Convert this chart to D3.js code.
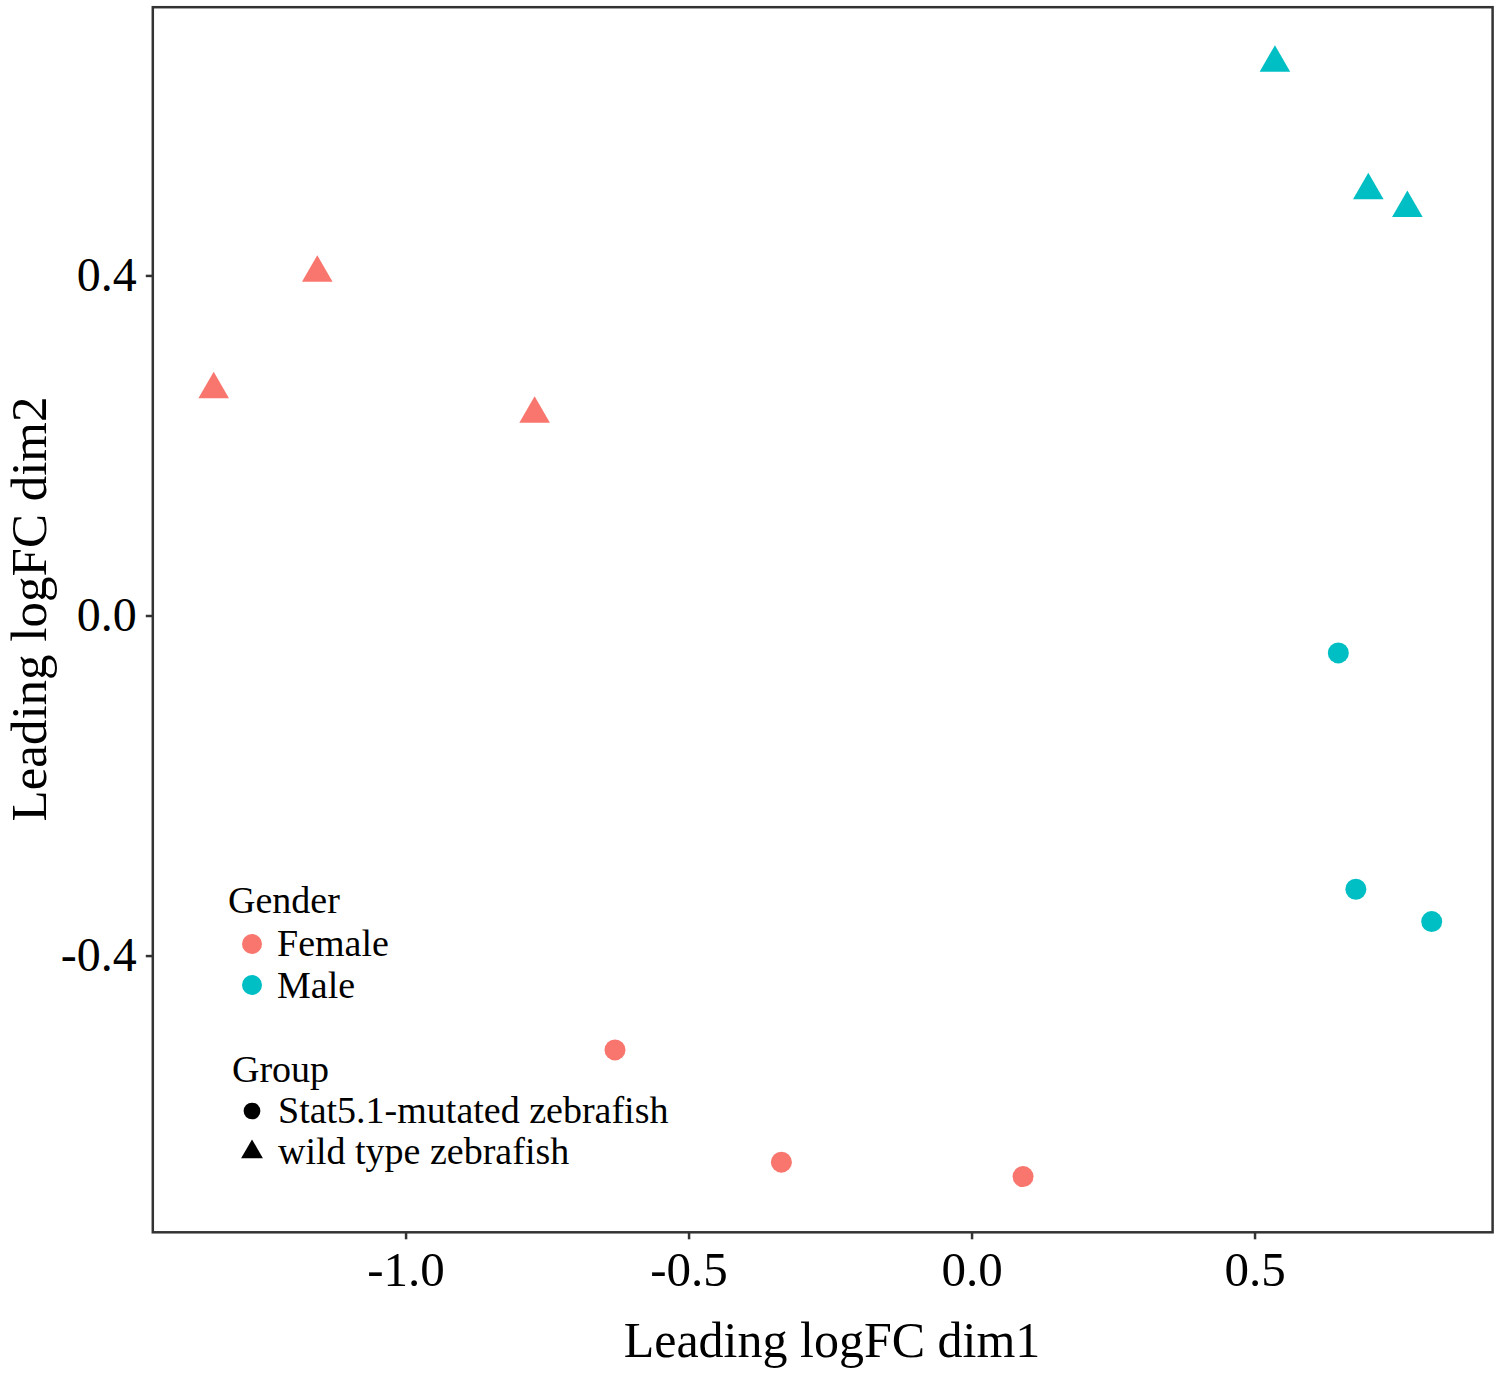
<!DOCTYPE html>
<html>
<head>
<meta charset="utf-8">
<script src="https://cdn.jsdelivr.net/npm/d3@7"></script>
<style>
  body { margin: 0; background: #fff; }
  text { font-family: "Liberation Serif", "Times New Roman", serif; fill: #000; }
</style>
</head>
<body>
<div id="mds_plot"></div>
<script>
// MDS coordinates, one entry per sample
var dim1 = [-1.156, -1.339, -0.772, 0.536, 0.701, 0.770,
            0.648, 0.679, 0.813, -0.630, -0.336, 0.091];
var dim2 = [0.403, 0.266, 0.237, 0.650, 0.500, 0.479,
            -0.044, -0.322, -0.360, -0.511, -0.643, -0.660];
var sampleGender = ["Female", "Female", "Female", "Male", "Male", "Male",
                    "Male", "Male", "Male", "Female", "Female", "Female"];
var sampleGroup = ["wild type zebrafish", "wild type zebrafish", "wild type zebrafish",
                   "wild type zebrafish", "wild type zebrafish", "wild type zebrafish",
                   "Stat5.1-mutated zebrafish", "Stat5.1-mutated zebrafish", "Stat5.1-mutated zebrafish",
                   "Stat5.1-mutated zebrafish", "Stat5.1-mutated zebrafish", "Stat5.1-mutated zebrafish"];

var genders = ["Female", "Male"];
var groups = ["Stat5.1-mutated zebrafish", "wild type zebrafish"];
var xTicks = [-1.0, -0.5, 0.0, 0.5];
var yTicks = [-0.4, 0.0, 0.4];

var data = dim1.map(function (d, i) {
    return {x: d, y: dim2[i], gender: sampleGender[i], group: sampleGroup[i]};
});

// panel box in page pixels
var W = 1500, H = 1374;
var panel = {left: 152.8, right: 1492.6, top: 7.2, bottom: 1232.3};

// ggplot style 5% expansion of the data range
function expand(ext) {
    var pad = (ext[1] - ext[0]) * 0.05;
    return [ext[0] - pad, ext[1] + pad];
}

var x = d3.scaleLinear()
    .domain(expand(d3.extent(data, function (d) { return d.x; })))
    .range([panel.left, panel.right]);
var y = d3.scaleLinear()
    .domain(expand(d3.extent(data, function (d) { return d.y; })))
    .range([panel.bottom, panel.top]);

var colour = d3.scaleOrdinal().domain(genders).range(["#F8766D", "#00BFC4"]);
var shape = d3.scaleOrdinal().domain(groups).range([d3.symbolCircle, d3.symbolTriangle]);
var markSize = d3.scaleOrdinal().domain(groups).range([Math.PI * 10.5 * 10.5, 405]);

var svg = d3.select("#mds_plot").append("svg")
    .attr("width", W)
    .attr("height", H);

var fmt = function (d) { return d.toFixed(1); };

// x axis
svg.append("g")
    .attr("transform", "translate(0," + panel.bottom + ")")
    .call(d3.axisBottom(x).tickValues(xTicks).tickFormat(fmt).tickSize(7).tickPadding(12))
    .call(function (g) { g.select(".domain").remove(); })
    .call(function (g) {
        g.selectAll(".tick line").attr("stroke", "#333").attr("stroke-width", 2.5);
        g.selectAll(".tick text").attr("font-size", 49).attr("fill", "#000")
            .style("font-family", "Liberation Serif");
    });

// y axis
svg.append("g")
    .attr("transform", "translate(" + panel.left + ",0)")
    .call(d3.axisLeft(y).tickValues(yTicks).tickFormat(fmt).tickSize(7).tickPadding(9))
    .call(function (g) { g.select(".domain").remove(); })
    .call(function (g) {
        g.selectAll(".tick line").attr("stroke", "#333").attr("stroke-width", 2.5);
        g.selectAll(".tick text").attr("font-size", 48).attr("fill", "#000")
            .style("font-family", "Liberation Serif");
    });

// points
svg.append("g").selectAll("path")
    .data(data)
    .enter().append("path")
    .attr("transform", function (d) { return "translate(" + x(d.x) + "," + y(d.y) + ")"; })
    .attr("d", function (d) { return d3.symbol().type(shape(d.group)).size(markSize(d.group))(); })
    .attr("fill", function (d) { return colour(d.gender); });

// panel border
svg.append("rect")
    .attr("x", panel.left)
    .attr("y", panel.top)
    .attr("width", panel.right - panel.left)
    .attr("height", panel.bottom - panel.top)
    .attr("fill", "none")
    .attr("stroke", "#333")
    .attr("stroke-width", 2.5);

// axis titles
svg.append("text")
    .attr("x", 832)
    .attr("y", 1357)
    .attr("text-anchor", "middle")
    .attr("font-size", 50)
    .text("Leading logFC dim1");

svg.append("text")
    .attr("transform", "translate(46,609) rotate(-90)")
    .attr("text-anchor", "middle")
    .attr("font-size", 51)
    .text("Leading logFC dim2");

// legend: Gender
var legend = svg.append("g");
legend.append("text")
    .attr("x", 228).attr("y", 913)
    .attr("font-size", 38)
    .text("Gender");

legend.selectAll(".gkey")
    .data(genders)
    .enter().append("circle")
    .attr("cx", 252)
    .attr("cy", function (d, i) { return 944 + i * 41; })
    .attr("r", 10)
    .attr("fill", function (d) { return colour(d); });

legend.selectAll(".glab")
    .data(genders)
    .enter().append("text")
    .attr("x", 277)
    .attr("y", function (d, i) { return 956 + i * 42; })
    .attr("font-size", 38)
    .text(function (d) { return d; });

// legend: Group
legend.append("text")
    .attr("x", 232).attr("y", 1082)
    .attr("font-size", 38)
    .text("Group");

legend.selectAll(".skey")
    .data(groups)
    .enter().append("path")
    .attr("transform", function (d, i) { return "translate(252," + (1111 + i * 41) + ")"; })
    .attr("d", function (d, i) { return d3.symbol().type(shape(d)).size(i === 0 ? 220 : 206)(); })
    .attr("fill", "#000");

legend.selectAll(".slab")
    .data(groups)
    .enter().append("text")
    .attr("x", 278)
    .attr("y", function (d, i) { return 1123 + i * 41; })
    .attr("font-size", 38)
    .text(function (d) { return d; });
</script>
</body>
</html>
